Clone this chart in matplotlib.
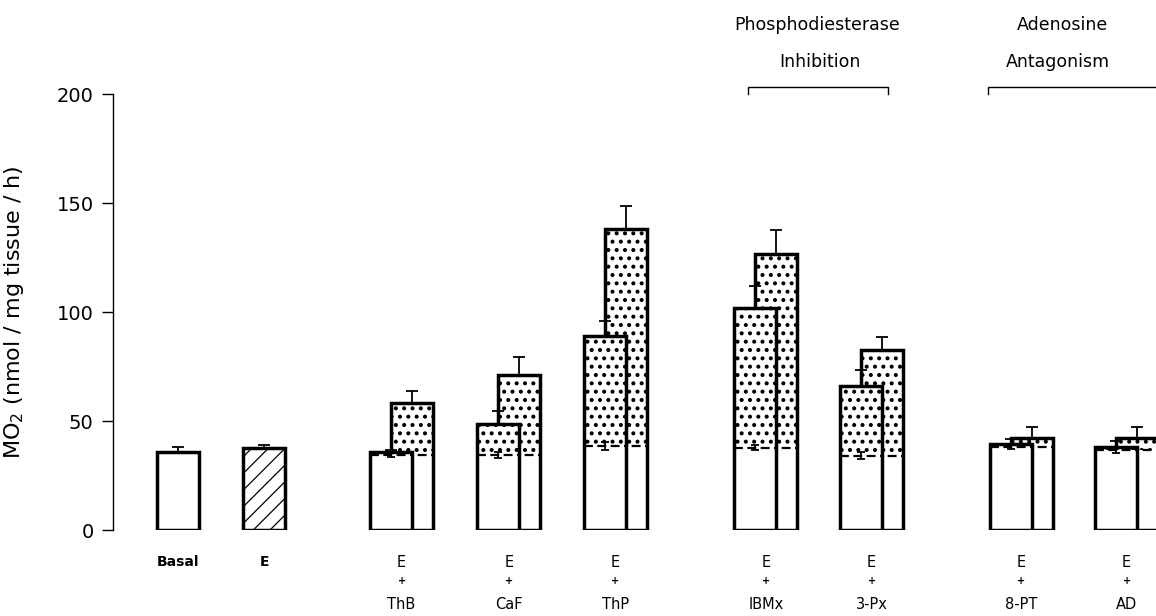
import matplotlib
matplotlib.use('Agg')
import matplotlib.pyplot as plt
import numpy as np

plt.rcParams['font.family'] = ['DejaVu Sans']

# single bars
single_labels = ['Basal', 'E']
single_vals = [36.0, 37.5]
single_err = [2.0, 1.5]

# paired bars: E + drug (left = first measure, right = second measure)
pair_names = ['ThB', 'CaF', 'ThP', 'IBMx', '3-Px', '8-PT', 'AD']
left_vals = [35.6, 48.5, 89.0, 101.7, 66.2, 39.4, 38.2]
left_err = [1.2, 6.2, 7.0, 10.4, 7.2, 2.5, 2.6]
right_vals = [58.4, 71.1, 138.0, 126.5, 82.6, 42.0, 42.0]
right_err = [5.4, 8.1, 10.8, 11.1, 5.8, 5.4, 5.4]
base_vals = [34.5, 34.4, 38.5, 37.8, 34.1, 38.0, 36.7]
base_err = [1.0, 1.5, 2.0, 1.0, 1.5, 1.0, 1.5]

# layout (x units = one bar width)
single_x = [1.55, 3.6]
pair_x = [6.62, 9.17, 11.71, 15.29, 17.81, 21.37, 23.88]
w = 1.0

fig = plt.figure(figsize=(11.56, 6.16), dpi=100)
ax = fig.add_axes([0.0978, 0.1396, 0.9022, 0.7078])

# Basal (open) and E (hatched)
plt.rcParams['hatch.linewidth'] = 0.9
ax.bar(single_x[0], single_vals[0], w, facecolor='white', edgecolor='black', linewidth=2.5)
ax.bar(single_x[1], single_vals[1], w, facecolor='white', edgecolor='black', linewidth=2.5, hatch='//')
ax.errorbar(single_x, single_vals, yerr=[[0, 0], single_err], fmt='none', ecolor='black',
            elinewidth=1.3, capsize=4, capthick=1.3)

plt.rcParams['hatch.linewidth'] = 1.7


def stacked_bar(x, top, base, err, z):
    # white lower part, dotted increment, outline, dashed base line
    ax.bar(x, top, w, facecolor='white', edgecolor='none', linewidth=0, zorder=z)
    ax.bar(x, top - base, w, bottom=base, facecolor='white', edgecolor='black',
           linewidth=0, hatch='..', zorder=z + 0.1)
    ax.bar(x, top, w, fill=False, edgecolor='black', linewidth=2.5, zorder=z + 0.3)
    ax.hlines(base, x - w / 2, x + w / 2, colors='black', linestyles=(0, (4, 2)),
              linewidth=1.6, zorder=z + 0.3)
    ax.errorbar([x], [top], yerr=[[0], [err]], fmt='none', ecolor='black',
                elinewidth=1.3, capsize=4, capthick=1.3, zorder=z - 0.1)


for i in range(len(pair_names)):
    xl = pair_x[i]
    xr = xl + 0.5
    # right bar sits behind the left one
    stacked_bar(xr, right_vals[i], base_vals[i], right_err[i], 2)
    stacked_bar(xl, left_vals[i], base_vals[i], left_err[i], 3)
    ax.errorbar([xl], [base_vals[i]], yerr=[[base_err[i]], [base_err[i]]], fmt='none',
                ecolor='black', elinewidth=1.3, capsize=3, capthick=1.3, zorder=3.9)

# axes styling
ax.set_xlim(0, 24.83)
ax.set_ylim(0, 200)
for s in ['top', 'right', 'bottom']:
    ax.spines[s].set_visible(False)
ax.spines['left'].set_linewidth(1.0)
ax.set_yticks([0, 50, 100, 150, 200])
ax.tick_params(axis='y', direction='out', length=8, width=1.0, labelsize=14, pad=6)
ax.set_xticks([])
ax.set_ylabel('MO$_2$ (nmol / mg tissue / h)', fontsize=16, labelpad=22)

# x labels
for x, lab in zip(single_x, single_labels):
    ax.text(x, -14.7, lab, ha='center', va='center', fontsize=10, fontweight='bold',
            clip_on=False)
for i, name in enumerate(pair_names):
    xc = pair_x[i] + 0.25
    ax.text(xc, -14.7, 'E', ha='center', va='center', fontsize=10.5, clip_on=False)
    ax.text(xc, -23.4, '+', ha='center', va='center', fontsize=7, fontweight='bold',
            clip_on=False)
    ax.text(xc, -34.4, name, ha='center', va='center', fontsize=10.5, clip_on=False)


# group brackets
def bracket(x0, x1, y=203.2, drop=3.2):
    ax.plot([x0, x0, x1, x1], [y - drop, y, y, y - drop], color='black', linewidth=1.0,
            clip_on=False)


bracket(pair_x[3] - 0.17, pair_x[4] + 0.65)
ax.text(16.76, 231.7, 'Phosphodiesterase', ha='center', va='center', fontsize=12.5,
        clip_on=False)
ax.text(16.83, 214.7, 'Inhibition', ha='center', va='center', fontsize=12.5, clip_on=False)

ax.plot([pair_x[5] - 0.55, pair_x[5] - 0.55, 24.83], [200, 203.2, 203.2], color='black',
        linewidth=1.0, clip_on=False)
ax.text(22.6, 231.7, 'Adenosine', ha='center', va='center', fontsize=12.5, clip_on=False)
ax.text(22.5, 214.7, 'Antagonism', ha='center', va='center', fontsize=12.5, clip_on=False)

fig.savefig('out.png', dpi=100)
